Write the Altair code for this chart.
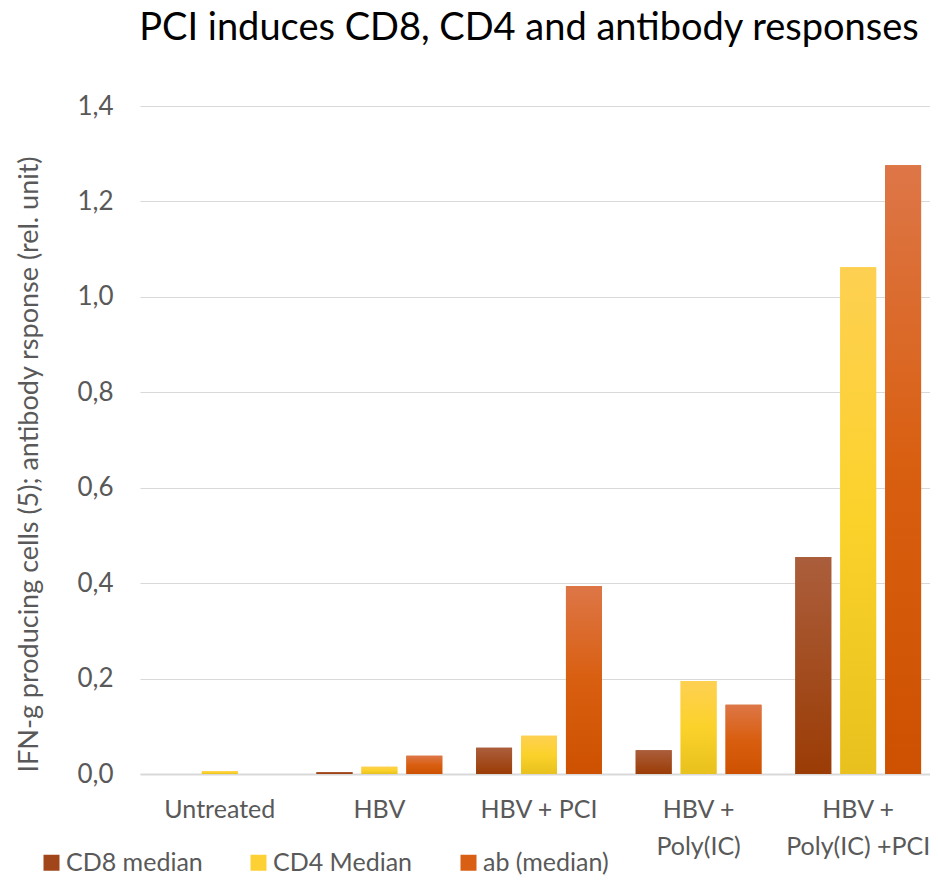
import altair as alt
import pandas as pd

categories = ["Untreated", "HBV", "HBV + PCI", "HBV +\nPoly(IC)", "HBV +\nPoly(IC) +PCI"]
series = ["CD8 median", "CD4 Median", "ab (median)"]
cd8 = [0.0, 0.004, 0.055, 0.050, 0.455]
cd4 = [0.006, 0.015, 0.080, 0.195, 1.062]
ab = [0.0, 0.038, 0.394, 0.145, 1.276]

solid = ["#a0461a", "#fdd033", "#d85f14"]
grads = {
    "CD8 median": ["#ab5e3c", "#9b3c05"],
    "CD4 Median": ["#fed052", "#fbd22a", "#e8c11e"],
    "ab (median)": ["#dd7647", "#d95f10", "#cd5100"],
}

rows = []
for i, c in enumerate(categories):
    for s, vals in zip(series, [cd8, cd4, ab]):
        rows.append({"category": c, "series": s, "value": vals[i]})
df = pd.DataFrame(rows)

FONT = "Lato"
GRAY = "#595959"

x_enc = alt.X("category:N", sort=categories,
              scale=alt.Scale(paddingInner=0.212, paddingOuter=0.106, range=[0, 798]),
              axis=alt.Axis(title=None, labelAngle=0, labelExpr="split(datum.label, '\\n')",
                            labelFontSize=25, labelColor=GRAY, labelFont=FONT,
                            labelPadding=23, labelLineHeight=37, ticks=False,
                            domainColor="#d9d9d9", domainWidth=2, labelBaseline="top"))
xo_enc = alt.XOffset("series:N", sort=series,
                     scale=alt.Scale(domain=series, paddingInner=0.2, paddingOuter=0))
y_enc = alt.Y("value:Q",
              scale=alt.Scale(domain=[0, 1.4], nice=False),
              axis=alt.Axis(title="IFN-g producing cells (5); antibody rsponse (rel. unit)",
                            values=[0, 0.2, 0.4, 0.6, 0.8, 1.0, 1.2, 1.4],
                            labelExpr="replace(format(datum.value, '.1f'), '.', ',')",
                            labelFontSize=26, labelColor=GRAY, labelFont=FONT,
                            titleFontSize=27, titleColor=GRAY, titleFont=FONT,
                            titleFontWeight="normal", titlePadding=33, titleY=358,
                            labelPadding=27, ticks=False, domain=False,
                            gridColor="#d9d9d9", gridWidth=1))

base = alt.Chart(df).mark_bar().encode(
    x=x_enc, xOffset=xo_enc, y=y_enc,
    color=alt.Color("series:N", sort=series,
                    scale=alt.Scale(domain=series, range=solid),
                    legend=alt.Legend(title=None, orient="none", direction="horizontal",
                                      legendX=-101, legendY=744,
                                      symbolType="square", symbolSize=256,
                                      symbolStrokeWidth=0,
                                      labelFontSize=25, labelColor=GRAY, labelFont=FONT,
                                      columnPadding=43, labelOffset=2)),
)

layers = [base]
for s in series:
    cols = grads[s]
    n = len(cols)
    stops = [alt.GradientStop(color=c, offset=k / (n - 1)) for k, c in enumerate(cols)]
    g = alt.Chart(df).transform_filter(alt.datum.series == s).mark_bar(
        color=alt.Gradient(gradient="linear", stops=stops, x1=0, x2=0, y1=0, y2=1)
    ).encode(x=x_enc, xOffset=xo_enc, y=y_enc)
    layers.append(g)

chart = alt.layer(*layers).properties(
    width=790, height=668,
    title=alt.TitleParams("PCI induces CD8, CD4 and antibody responses",
                          fontSize=38, font=FONT, fontWeight="normal", color="#000000",
                          anchor="middle", offset=45, dx=-6),
    autosize=alt.AutoSizeParams(type="none"),
    padding={"left": 132, "top": 98, "right": 0, "bottom": 104},
).configure_view(stroke=None).configure_axisX(grid=False)

chart.save("out.html", embed_options={"renderer": "svg", "actions": False})
